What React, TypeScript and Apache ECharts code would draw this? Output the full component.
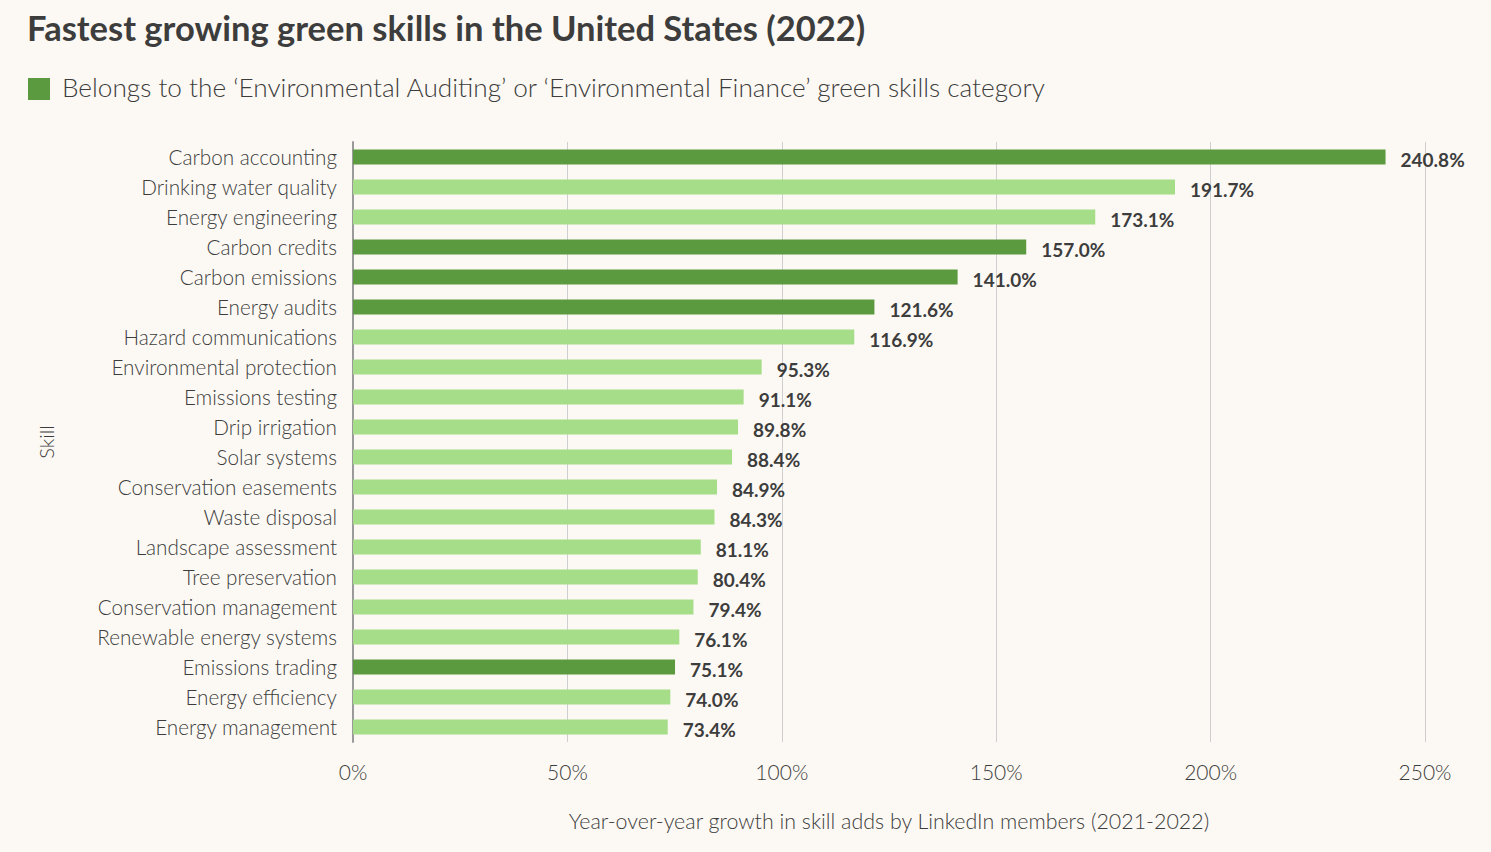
import React, { useEffect, useRef } from "react";
import * as echarts from "echarts";

const skills = [
  "Carbon accounting",
  "Drinking water quality",
  "Energy engineering",
  "Carbon credits",
  "Carbon emissions",
  "Energy audits",
  "Hazard communications",
  "Environmental protection",
  "Emissions testing",
  "Drip irrigation",
  "Solar systems",
  "Conservation easements",
  "Waste disposal",
  "Landscape assessment",
  "Tree preservation",
  "Conservation management",
  "Renewable energy systems",
  "Emissions trading",
  "Energy efficiency",
  "Energy management",
];
const growth = [240.8, 191.7, 173.1, 157.0, 141.0, 121.6, 116.9, 95.3, 91.1, 89.8, 88.4, 84.9, 84.3, 81.1, 80.4, 79.4, 76.1, 75.1, 74.0, 73.4];
const auditFinance = [true, false, false, true, true, true, false, false, false, false, false, false, false, false, false, false, false, true, false, false];
const xTicks = [0, 50, 100, 150, 200, 250];

const DARK = "#5c9a40";
const LIGHT = "#a5dd88";
const TEXT = "#3d3d3d";
const FONT = "Lato, 'Noto Sans', sans-serif";

export default function App() {
  const ref = useRef<HTMLDivElement>(null);
  useEffect(() => {
    const chart = echarts.init(ref.current!, null, { renderer: "svg" });
    chart.setOption({
      animation: false,
      backgroundColor: "#fcf9f4",
      textStyle: { fontFamily: FONT, color: TEXT },
      title: {
        text: "Fastest growing green skills in the United States (2022)",
        left: 22,
        top: 5,
        textStyle: { fontFamily: FONT, fontSize: 34.5, fontWeight: "bold", color: TEXT },
      },
      graphic: [
        { type: "rect", left: 28, top: 78, shape: { width: 22, height: 22 }, style: { fill: DARK } },
        {
          type: "text",
          left: 62,
          top: 74,
          style: {
            text: "Belongs to the ‘Environmental Auditing’ or ‘Environmental Finance’ green skills category",
            fontFamily: FONT,
            fontSize: 26.2,
            fontWeight: 300,
            fill: TEXT,
          },
        },
      ],
      grid: { left: 353, right: 66, top: 142, bottom: 110, containLabel: false },
      xAxis: {
        type: "value",
        min: xTicks[0],
        max: xTicks[xTicks.length - 1],
        interval: 50,
        name: "Year-over-year growth in skill adds by LinkedIn members (2021-2022)",
        nameLocation: "middle",
        nameGap: 68,
        nameTextStyle: { fontFamily: FONT, fontSize: 21.4, fontWeight: 300, color: TEXT },
        axisLine: { show: false },
        axisTick: { show: false },
        axisLabel: { formatter: "{value}%", margin: 19, fontFamily: FONT, fontSize: 21, fontWeight: 300, color: TEXT },
        splitLine: { show: true, lineStyle: { color: "#cfcfcf", width: 1 } },
      },
      yAxis: {
        type: "category",
        data: skills,
        inverse: true,
        name: "Skill",
        nameLocation: "middle",
        nameGap: 297,
        nameRotate: 90,
        nameTextStyle: { fontFamily: FONT, fontSize: 20, fontWeight: 300, color: TEXT },
        axisLine: { show: true, lineStyle: { color: "#9a9a9a", width: 2 } },
        axisTick: { show: false },
        axisLabel: { margin: 16, fontFamily: FONT, fontSize: 20.7, fontWeight: 300, color: TEXT },
      },
      series: [
        {
          type: "bar",
          barWidth: "50%",
          data: growth.map((v, i) => ({ value: v, itemStyle: { color: auditFinance[i] ? DARK : LIGHT } })),
          label: {
            show: true,
            position: "right",
            distance: 15,
            offset: [0, 2],
            formatter: (p: any) => p.value.toFixed(1) + "%",
            fontFamily: FONT,
            fontSize: 19,
            fontWeight: "bold",
            color: TEXT,
          },
        },
      ],
    });
    return () => chart.dispose();
  }, []);
  return <div ref={ref} style={{ width: 1491, height: 852, position: "fixed", left: 0, top: 0 }} />;
}
